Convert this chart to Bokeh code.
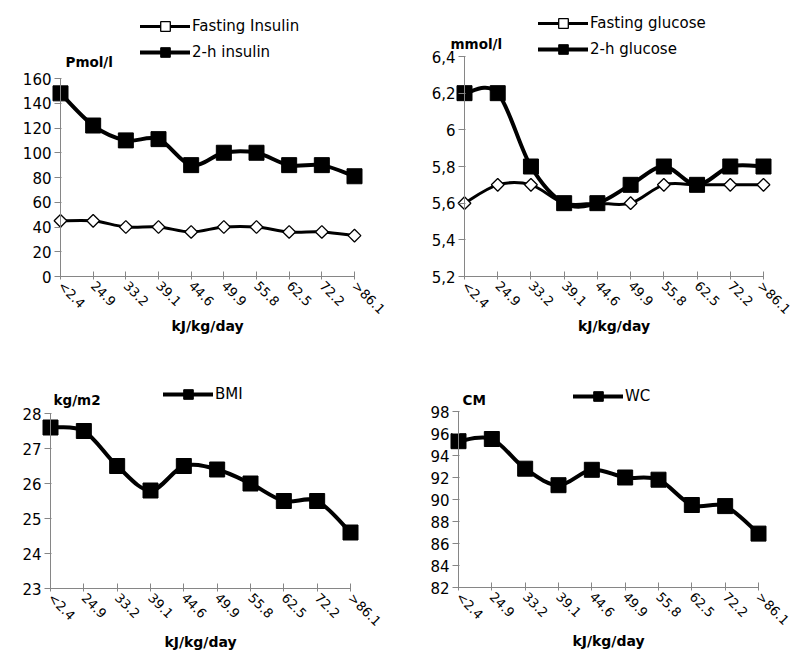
import math
from bokeh.plotting import figure
from bokeh.models import Range1d, FixedTicker, Label, Legend, LegendItem
from bokeh.layouts import column, row
from bokeh.embed import file_html
from bokeh.resources import INLINE

# ---------------- data ----------------
categories = ["<2.4", "24.9", "33.2", "39.1", "44.6", "49.9", "55.8", "62.5", "72.2", ">86.1"]
x_title = "kJ/kg/day"

fasting_insulin = [45, 45, 40, 40, 36, 40, 40, 36, 36, 33]
insulin_2h = [148, 122, 110, 111, 90, 100, 100, 90, 90, 81]
insulin_ticks = [0, 20, 40, 60, 80, 100, 120, 140, 160]

fasting_glucose = [5.6, 5.7, 5.7, 5.6, 5.6, 5.6, 5.7, 5.7, 5.7, 5.7]
glucose_2h = [6.2, 6.2, 5.8, 5.6, 5.6, 5.7, 5.8, 5.7, 5.8, 5.8]
glucose_ticks = [5.2, 5.4, 5.6, 5.8, 6.0, 6.2, 6.4]
glucose_tick_labels = ["5,2", "5,4", "5,6", "5,8", "6", "6,2", "6,4"]

bmi = [27.6, 27.5, 26.5, 25.8, 26.5, 26.4, 26.0, 25.5, 25.5, 24.6]
bmi_ticks = [23, 24, 25, 26, 27, 28]

wc = [95.3, 95.5, 92.8, 91.3, 92.7, 92.0, 91.8, 89.5, 89.4, 86.9]
wc_ticks = [82, 84, 86, 88, 90, 92, 94, 96, 98]

FONT = "DejaVu Sans"
GRAY = "#868686"


def smooth_segments(values):
    """Bezier control points (Catmull-Rom style, like a spreadsheet 'smoothed line')."""
    n = len(values)

    def pt(i):
        i = max(0, min(n - 1, i))
        return float(i), float(values[i])

    seg = dict(x0=[], y0=[], x1=[], y1=[], cx0=[], cy0=[], cx1=[], cy1=[])
    for i in range(n - 1):
        xa, ya = pt(i - 1)
        xb, yb = pt(i)
        xc, yc = pt(i + 1)
        xd, yd = pt(i + 2)
        seg["x0"].append(xb); seg["y0"].append(yb)
        seg["x1"].append(xc); seg["y1"].append(yc)
        seg["cx0"].append(xb + (xc - xa) / 6.0); seg["cy0"].append(yb + (yc - ya) / 6.0)
        seg["cx1"].append(xc - (xd - xb) / 6.0); seg["cy1"].append(yc - (yd - yb) / 6.0)
    return seg


def make_panel(fig_w, fig_h, first_px, last_px, top_px, axis_px, y_ticks,
               y_labels=None, label_standoff=-6):
    """Frame covers the whole figure; axes are pinned at data locations.
    first_px/last_px: x pixel of first/last category; top_px/axis_px: y pixel
    (from figure top) of the highest / lowest tick."""
    n = len(categories)
    step = (last_px - first_px) / (n - 1)
    x0 = -first_px / step
    x1 = (n - 1) + (fig_w - last_px) / step
    y_lo, y_hi = y_ticks[0], y_ticks[-1]
    per_px = (y_hi - y_lo) / (axis_px - top_px)
    y_top = y_hi + top_px * per_px
    y_bot = y_lo - (fig_h - axis_px) * per_px

    p = figure(frame_width=fig_w, frame_height=fig_h,
               min_border_left=0, min_border_right=0,
               min_border_top=0, min_border_bottom=0,
               x_range=Range1d(x0, x1), y_range=Range1d(y_bot, y_top),
               output_backend="svg", toolbar_location=None, tools="")
    p.outline_line_color = None
    p.grid.visible = False
    p.background_fill_color = "white"
    p.border_fill_color = "white"

    xa = p.xaxis[0]
    xa.ticker = FixedTicker(ticks=list(range(n)))
    xa.major_label_overrides = {i: c for i, c in enumerate(categories)}
    xa.major_label_orientation = -math.pi / 4
    xa.fixed_location = y_lo
    xa.bounds = (0, n - 1)
    xa.major_label_text_font = FONT
    xa.major_label_text_font_size = "13px"
    xa.major_label_text_color = "black"
    xa.major_label_standoff = 4
    xa.major_tick_in = 5
    xa.major_tick_out = 3
    xa.axis_label = x_title
    xa.axis_label_text_font = FONT
    xa.axis_label_text_font_style = "bold"
    xa.axis_label_text_font_size = "14px"
    xa.axis_label_text_color = "black"
    xa.axis_label_standoff = label_standoff

    ya = p.yaxis[0]
    ya.ticker = FixedTicker(ticks=y_ticks)
    if y_labels is not None:
        ya.major_label_overrides = {t: l for t, l in zip(y_ticks, y_labels)}
    ya.fixed_location = 0
    ya.bounds = (y_lo, y_hi)
    ya.major_label_text_font = FONT
    ya.major_label_text_font_size = "15px"
    ya.major_label_text_color = "black"
    ya.major_label_standoff = 3
    ya.major_tick_out = 6
    ya.major_tick_in = 1

    for ax in (xa, ya):
        ax.axis_line_color = GRAY
        ax.axis_line_width = 1
        ax.major_tick_line_color = GRAY
        ax.minor_tick_line_color = None
    return p


def add_series(p, values, line_width, kind):
    seg = smooth_segments(values)
    curve = p.bezier(x0=seg["x0"], y0=seg["y0"], x1=seg["x1"], y1=seg["y1"],
                     cx0=seg["cx0"], cy0=seg["cy0"], cx1=seg["cx1"], cy1=seg["cy1"],
                     line_color="black", line_width=line_width, line_cap="round")
    xs = list(range(len(values)))
    if kind == "square":
        pts = p.scatter(x=xs, y=values, marker="square", size=15,
                        fill_color="black", line_color="black")
    else:
        pts = p.scatter(x=xs, y=values, marker="square", size=9, angle=math.pi / 4,
                        fill_color="white", line_color="black", line_width=1.3)
    return [curve, pts]


def add_legend(p, entries, vx, vy):
    items = [LegendItem(label=lab, renderers=rs) for lab, rs in entries]
    lg = Legend(items=items, location=(vx, vy), orientation="vertical",
                glyph_width=50, glyph_height=24, label_height=24, label_standoff=2,
                spacing=2, padding=0, margin=0,
                border_line_color=None, background_fill_alpha=0,
                label_text_font=FONT, label_text_font_size="15px", label_text_color="black")
    p.add_layout(lg)


def add_title(p, text, y, x_offset):
    p.add_layout(Label(x=0, y=y, x_units="data", y_units="screen", x_offset=x_offset,
                       text=text, text_font=FONT, text_font_style="bold",
                       text_font_size="13.5px", text_color="black",
                       text_align="left", text_baseline="middle"))


# ---- panel 1: insulin ----
p1 = make_panel(400, 345, 60, 354, 78, 276, insulin_ticks, label_standoff=-7)
r_fi = add_series(p1, fasting_insulin, 3, "diamond")
r_2i = add_series(p1, insulin_2h, 4, "square")
add_legend(p1, [("Fasting Insulin", r_fi), ("2-h insulin", r_2i)], 140, 281)
add_title(p1, "Pmol/l", 284, 5)

# ---- panel 2: glucose ----
p2 = make_panel(393, 345, 64, 363, 56, 276, glucose_ticks, glucose_tick_labels, label_standoff=-7)
r_fg = add_series(p2, fasting_glucose, 3, "diamond")
r_2g = add_series(p2, glucose_2h, 4, "square")
add_legend(p2, [("Fasting glucose", r_fg), ("2-h glucose", r_2g)], 138, 284)
add_title(p2, "mmol/l", 302, -14)

# ---- panel 3: BMI ----
p3 = make_panel(400, 308, 50, 350, 68, 243, bmi_ticks, label_standoff=-3)
r_bmi = add_series(p3, bmi, 4, "square")
add_legend(p3, [("BMI", r_bmi)], 163, 247)
add_title(p3, "kg/m2", 254, 3)

# ---- panel 4: WC ----
p4 = make_panel(393, 308, 58, 358, 66, 242, wc_ticks, label_standoff=-3)
r_wc = add_series(p4, wc, 4, "square")
add_legend(p4, [("WC", r_wc)], 173, 245)
add_title(p4, "CM", 254, 4)

layout = column(row(p1, p2), row(p3, p4))

with open("out.html", "w") as f:
    f.write(file_html(layout, INLINE))
